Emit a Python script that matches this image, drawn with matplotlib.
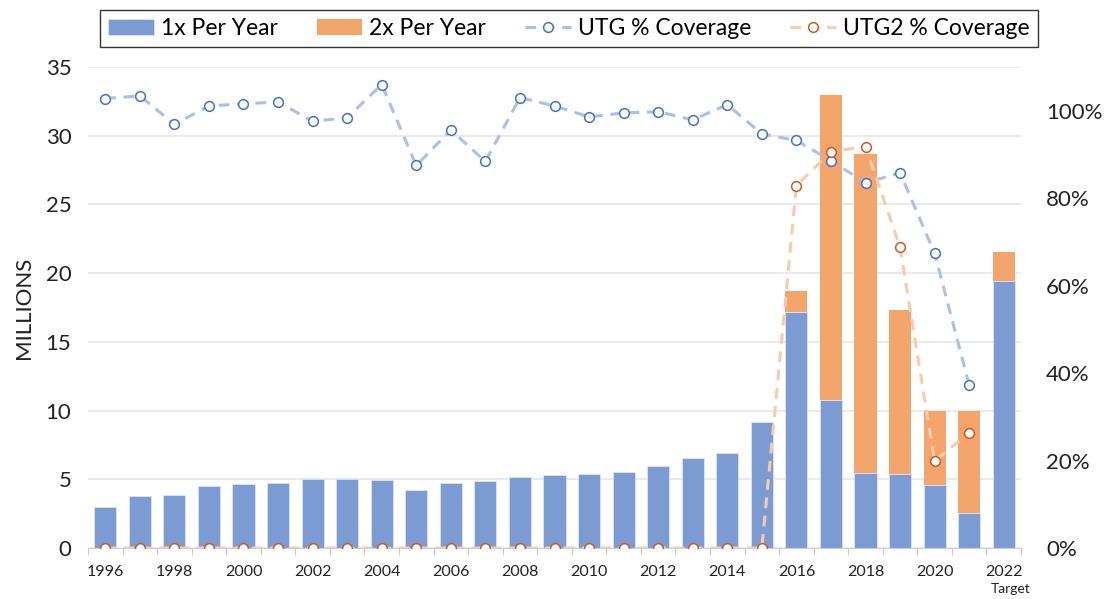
import matplotlib.pyplot as plt
import numpy as np

plt.rcParams['font.family'] = ['Lato', 'DejaVu Sans']

# Data
years = ['1996', '1997', '1998', '1999', '2000', '2001', '2002', '2003', '2004',
         '2005', '2006', '2007', '2008', '2009', '2010', '2011', '2012', '2013',
         '2014', '2015', '2016', '2017', '2018', '2019', '2020', '2021', '2022']
once_per_year = [3.0, 3.8, 3.85, 4.5, 4.65, 4.75, 5.05, 5.0, 4.95, 4.2, 4.7, 4.85,
                 5.15, 5.3, 5.4, 5.5, 6.0, 6.55, 6.95, 9.2, 17.2, 10.75, 5.45,
                 5.4, 4.55, 2.55, 19.4]
twice_per_year = [0, 0, 0, 0, 0, 0, 0, 0, 0, 0, 0, 0, 0, 0, 0, 0, 0, 0, 0, 0,
                  1.5, 22.25, 23.2, 11.95, 5.45, 7.45, 2.15]
utg_cov = [1.028, 1.034, 0.969, 1.011, 1.016, 1.020, 0.976, 0.984, 1.060, 0.875,
           0.956, 0.884, 1.030, 1.011, 0.986, 0.995, 0.998, 0.979, 1.014, 0.947,
           0.932, 0.886, 0.835, 0.858, 0.674, 0.373, np.nan]
utg2_cov = [0, 0, 0, 0, 0, 0, 0, 0, 0, 0, 0, 0, 0, 0, 0, 0, 0, 0, 0, 0,
            0.829, 0.906, 0.918, 0.688, 0.199, 0.264, np.nan]

blue_bar = '#7B9BD2'
orange_bar = '#F3A56C'
blue_line = '#A9C1E8'
blue_edge = '#4472C4'
orange_line = '#F8CBAD'
orange_edge = '#D0581F'

x = np.arange(len(years))

fig = plt.figure(figsize=(11.11, 5.99), dpi=100)
ax = fig.add_axes([0.0792, 0.0851, 0.8398, 0.803])

ax.bar(x, once_per_year, width=0.64, color=blue_bar, edgecolor='#DCE4F2',
       linewidth=0.6, label='1x Per Year', zorder=2)
ax.bar(x, twice_per_year, width=0.64, bottom=once_per_year, color=orange_bar,
       linewidth=0, label='2x Per Year', zorder=2)

ax.set_xlim(-0.5, len(years) - 0.5)
ax.set_ylim(0, 35)
ax.set_yticks(np.arange(0, 36, 5))
ax.yaxis.grid(True, color='#E6E6E6', linewidth=1.2, zorder=0)
ax.set_axisbelow(True)
for s in ['top', 'right', 'left']:
    ax.spines[s].set_visible(False)
ax.spines['bottom'].set_color('#D0D0D0')
ax.tick_params(axis='y', length=0, labelsize=16, pad=12, labelcolor='#222222')
ax.set_ylabel('MILLIONS', fontsize=16, color='#222222', labelpad=8)

ax.set_xticks(x[::2])
ax.set_xticklabels(years[::2], fontsize=11.5, color='#222222')
ax.set_xticks(np.arange(-0.5, len(years), 1), minor=True)
ax.tick_params(axis='x', which='major', length=0, pad=12)
ax.tick_params(axis='x', which='minor', length=5, color='#BFBFBF')
ax.text(x[-1] + 0.2, -0.072, 'Target', transform=ax.get_xaxis_transform(),
        ha='center', va='top', fontsize=10, color='#222222')

ax2 = ax.twinx()
ax2.set_ylim(0, 1.1)
ax2.set_yticks([0, 0.2, 0.4, 0.6, 0.8, 1.0])
ax2.set_yticklabels(['0%', '20%', '40%', '60%', '80%', '100%'])
ax2.tick_params(axis='y', length=0, labelsize=16, pad=18, labelcolor='#222222')
for s in ax2.spines.values():
    s.set_visible(False)

ax2.plot(x, utg_cov, linestyle=(0, (3.5, 2.5)), color=blue_line, linewidth=2.2,
         marker='o', markersize=7, markerfacecolor='white',
         markeredgecolor=blue_edge, markeredgewidth=1.1, label='UTG % Coverage',
         zorder=3)
ax2.plot(x, utg2_cov, linestyle=(0, (3.5, 2.5)), color=orange_line, linewidth=2.2,
         marker='o', markersize=7, markerfacecolor='white',
         markeredgecolor=orange_edge, markeredgewidth=1.1,
         label='UTG2 % Coverage', zorder=3)

h1, l1 = ax.get_legend_handles_labels()
h2, l2 = ax2.get_legend_handles_labels()
leg = fig.legend(h1 + h2, l1 + l2, loc='center', ncol=4,
                 bbox_to_anchor=(0.512, 0.952), fontsize=16.5, frameon=True,
                 fancybox=False, edgecolor='black', handlelength=2.0,
                 handletextpad=0.3, columnspacing=1.7, borderpad=0.35)
leg.get_frame().set_linewidth(1.0)

fig.savefig('out.png', dpi=100)
